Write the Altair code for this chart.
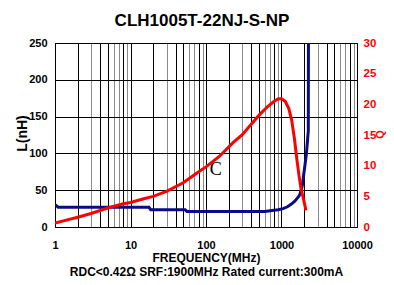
import altair as alt
import pandas as pd

# Inductance L (nH) vs frequency (MHz)
l_freq = [1, 1.1, 2, 5, 10, 17.5, 18.5, 30, 53, 56, 100, 300, 600, 750, 900, 1050, 1200, 1365, 1500, 1600, 1700, 1760, 1885, 1950, 2050, 2140, 2200, 2265, 2275]
l_val = [30.5, 27, 27, 27, 27, 27, 23.5, 23.5, 23.5, 21, 21, 21, 21, 22.5, 23.5, 25, 27.5, 31.5, 35, 38.5, 42, 45, 56, 68, 85, 100, 115, 131, 250]

# Q vs frequency (MHz)
q_freq = [1, 1.5, 2, 3, 5, 8, 10, 15, 20, 30, 50, 80, 100, 150, 230, 300, 400, 520, 650, 800, 910, 1000, 1120, 1250, 1365, 1480, 1585, 1700, 1800, 1950, 2110]
q_val = [0.65, 1.2, 1.6, 2.2, 3.1, 3.8, 4.0, 4.6, 5.0, 5.8, 7.2, 9.0, 9.8, 11.5, 13.8, 15.0, 16.8, 18.4, 19.6, 20.5, 20.9, 20.9, 20.5, 19.3, 17.4, 14.5, 11.4, 8.5, 6.5, 4.6, 2.7]

x_ticks = [1, 10, 100, 1000, 10000]
x_grid = [m * d for d in [1, 10, 100, 1000] for m in range(1, 10)] + [10000]
gray_grid = [m * d for d in [1, 10, 100, 1000] for m in [3, 6, 7, 9]]
l_ticks = [0, 50, 100, 150, 200, 250]
q_ticks = [0, 5, 10, 15, 20, 25, 30]

title = "CLH1005T-22NJ-S-NP"
x_title = ["FREQUENCY(MHz)", "RDC<0.42\u03a9 SRF:1900MHz Rated current:300mA"]
annot = pd.DataFrame({"f": [135], "v": [77], "t": ["C"]})

FONT = "Liberation Sans"

ldf = pd.DataFrame({"f": l_freq, "v": l_val, "i": range(len(l_freq))})
qdf = pd.DataFrame({"f": q_freq, "v": q_val, "i": range(len(q_freq))})

xscale = alt.Scale(type="log", domain=[1, 10000], nice=False)

gray_test = "indexof(" + str(gray_grid) + ", datum.value) >= 0"
label_test = "indexof(" + str(x_ticks) + ", datum.value) >= 0 ? '' + datum.value : ''"

xaxis = alt.Axis(
    values=x_grid, labelExpr=label_test, title=x_title, ticks=False, domain=False,
    grid=True, gridColor={"condition": {"test": gray_test, "value": "#8a8a8a"}, "value": "#000000"},
    gridOpacity=1, gridWidth=1, labelFont=FONT, labelFontSize=11, labelFontWeight="bold",
    labelColor="black", labelPadding=12, labelFlush=False, labelOverlap=False,
    titleFont=FONT, titleFontSize=12, titleFontWeight="bold", titleColor="black",
    titlePadding=2, titleLineHeight=14,
)

blue = alt.Chart(ldf).mark_line(color="#0b0b8a", strokeWidth=3, clip=True).encode(
    x=alt.X("f:Q", scale=xscale, axis=xaxis),
    y=alt.Y("v:Q", scale=alt.Scale(domain=[0, 250], nice=False),
            axis=alt.Axis(values=l_ticks, title="L(nH)", ticks=False, domain=False, grid=True,
                          gridColor="black", gridOpacity=1, gridWidth=1,
                          labelFont=FONT, labelFontSize=11, labelFontWeight="bold", labelColor="black",
                          labelPadding=8, titleFont=FONT, titleFontSize=14, titleFontWeight="bold",
                          titleColor="black", titleX=-33, titleY=90, titleAlign="center",
                          titleBaseline="middle", titleAngle=-90)),
    order="i:Q",
)

red = alt.Chart(qdf).mark_line(color="#ff0000", strokeWidth=3, clip=True).encode(
    x=alt.X("f:Q", scale=xscale),
    y=alt.Y("v:Q", scale=alt.Scale(domain=[0, 30], nice=False),
            axis=alt.Axis(orient="right", values=q_ticks, title="Q", ticks=False, domain=False, grid=False,
                          labelFont=FONT, labelFontSize=11.5, labelFontWeight="bold", labelColor="#ff0000",
                          labelPadding=6, titleFont=FONT, titleFontSize=11, titleFontWeight="bold",
                          titleColor="#ff0000", titleAngle=-90, titleX=23, titleY=91,
                          titleAlign="center", titleBaseline="middle")),
    order="i:Q",
)

text = alt.Chart(annot).mark_text(font="Liberation Serif", fontSize=18, color="black", baseline="middle").encode(
    x=alt.X("f:Q", scale=xscale),
    y=alt.Y("v:Q", scale=alt.Scale(domain=[0, 250], nice=False), axis=None),
    text="t:N",
)

chart = alt.layer(blue, red, text).resolve_scale(y="independent").properties(
    width=302, height=184,
    title=alt.TitleParams(title, font=FONT, fontSize=17, fontWeight="bold", color="black", offset=7, dx=-4),
    autosize=alt.AutoSizeParams(type="none"),
    padding={"left": 47, "top": 35, "right": 29, "bottom": 50},
).configure_view(stroke="black", strokeWidth=1)

chart.save("out.html", embed_options={"renderer": "svg", "actions": False})
